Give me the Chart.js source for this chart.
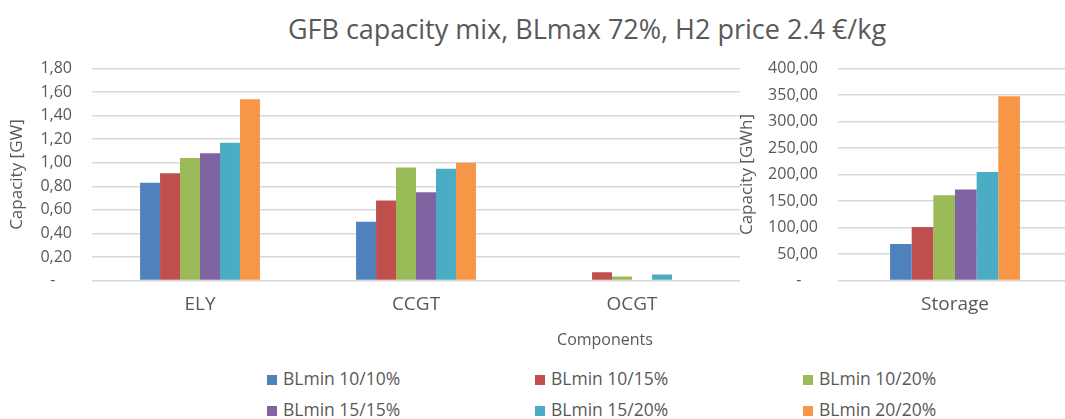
<!DOCTYPE html>
<html>
<head>
<meta charset="utf-8">
<script src="https://cdn.jsdelivr.net/npm/chart.js@4"></script>
<style>
  html, body { margin: 0; padding: 0; background: #fff; }
  body { width: 1065px; height: 419px; overflow: hidden; position: relative; font-family: "Open Sans", sans-serif; color: #595959; }
  #title { position: absolute; top: 10px; left: 0; width: 1174px; text-align: center; font-size: 27px; white-space: nowrap; }
  #leftBox { position: absolute; left: 0; top: 38.5px; width: 740px; height: 311.5px; }
  #rightBox { position: absolute; left: 728px; top: 38.5px; width: 344px; height: 311.5px; }
  #xTitle { position: absolute; top: 328px; left: 505px; width: 200px; text-align: center; font-size: 16px; }
  #legend { position: absolute; left: 0; top: 366px; width: 1065px; height: 60px; }
  .item { position: absolute; font-size: 17.5px; white-space: nowrap; line-height: 24px; }
  .item span.box { display: inline-block; width: 10px; height: 10px; margin-right: 6px; vertical-align: 0px; }
</style>
</head>
<body>
<div id="title">GFB capacity mix, BLmax 72%, H2 price 2.4 €/kg</div>
<div id="leftBox"><canvas id="powerChart"></canvas></div>
<div id="rightBox"><canvas id="storageChart"></canvas></div>
<div id="xTitle">Components</div>
<div id="legend"></div>

<script>
// categories
const powerCategories = ['ELY', 'CCGT', 'OCGT'];
const storageCategories = ['Storage'];

// series names and colours
const seriesNames = ['BLmin 10/10%', 'BLmin 10/15%', 'BLmin 10/20%', 'BLmin 15/15%', 'BLmin 15/20%', 'BLmin 20/20%'];
const seriesColors = ['#4F81BD', '#C0504D', '#9BBB59', '#8064A2', '#4BACC6', '#F79646'];

// capacity in GW, per series: [ELY, CCGT, OCGT]
const bl1010 = [0.83, 0.50, 0.00];
const bl1015 = [0.91, 0.68, 0.07];
const bl1020 = [1.04, 0.96, 0.035];
const bl1515 = [1.08, 0.75, 0.00];
const bl1520 = [1.17, 0.95, 0.05];
const bl2020 = [1.54, 1.00, 0.00];

// storage capacity in GWh, one per series
const storageValues = [69, 101, 161, 172, 205, 348];

const powerSeries = [bl1010, bl1015, bl1020, bl1515, bl1520, bl2020];

const textGrey = '#595959';
const gridGrey = '#d9d9d9';
const fontFamily = '"Open Sans", sans-serif';

// Excel style number: 1,80 / 350,00 and "-" for zero
function excelNum(v) {
    if (v === 0) return '-    ';
    return v.toFixed(2).replace('.', ',');
}

function baseOptions(yMax, yStep, yTitle, axisWidth, titlePad) {
    return {
        responsive: true,
        maintainAspectRatio: false,
        animation: false,
        layout: { padding: { top: 5, bottom: 0, left: 0, right: 0 } },
        plugins: {
            legend: { display: false },
            tooltip: { enabled: false }
        },
        scales: {
            x: {
                grid: { display: false, drawTicks: false },
                border: { display: false },
                ticks: { color: textGrey, padding: 13, font: { family: fontFamily, size: 19 } },
                afterFit: function (scale) { scale.height = 70; }
            },
            y: {
                min: 0,
                max: yMax,
                ticks: {
                    stepSize: yStep,
                    color: textGrey,
                    padding: 20,
                    font: { family: fontFamily, size: 16 },
                    callback: function (value) { return excelNum(value); }
                },
                grid: { color: gridGrey, lineWidth: 1.5, drawTicks: false },
                border: { display: false },
                title: {
                    display: true,
                    text: yTitle,
                    color: textGrey,
                    padding: { top: titlePad, bottom: 0 },
                    font: { family: fontFamily, size: 17 }
                },
                afterFit: function (scale) { scale.width = axisWidth; }
            }
        }
    };
}

// left chart: power components
new Chart(document.getElementById('powerChart').getContext('2d'), {
    type: 'bar',
    data: {
        labels: powerCategories,
        datasets: seriesNames.map(function (name, i) {
            return {
                label: name,
                data: powerSeries[i],
                backgroundColor: seriesColors[i],
                borderWidth: 0,
                categoryPercentage: 0.555,
                barPercentage: 1.0
            };
        })
    },
    options: baseOptions(1.8, 0.2, 'Capacity [GW]', 92, 7)
});

// right chart: storage
new Chart(document.getElementById('storageChart').getContext('2d'), {
    type: 'bar',
    data: {
        labels: storageCategories,
        datasets: seriesNames.map(function (name, i) {
            return {
                label: name,
                data: [storageValues[i]],
                backgroundColor: seriesColors[i],
                borderWidth: 0,
                categoryPercentage: 0.555,
                barPercentage: 1.0
            };
        })
    },
    options: baseOptions(400, 50, 'Capacity [GWh]', 110, 8.5)
});

// legend, 3 columns x 2 rows
const legendBox = document.getElementById('legend');
const colX = [267, 535, 803];
const rowY = [0, 31];
seriesNames.forEach(function (name, i) {
    const el = document.createElement('div');
    el.className = 'item';
    el.style.left = colX[i % 3] + 'px';
    el.style.top = rowY[Math.floor(i / 3)] + 'px';
    el.innerHTML = '<span class="box" style="background:' + seriesColors[i] + '"></span>' + name;
    legendBox.appendChild(el);
});
</script>
</body>
</html>
